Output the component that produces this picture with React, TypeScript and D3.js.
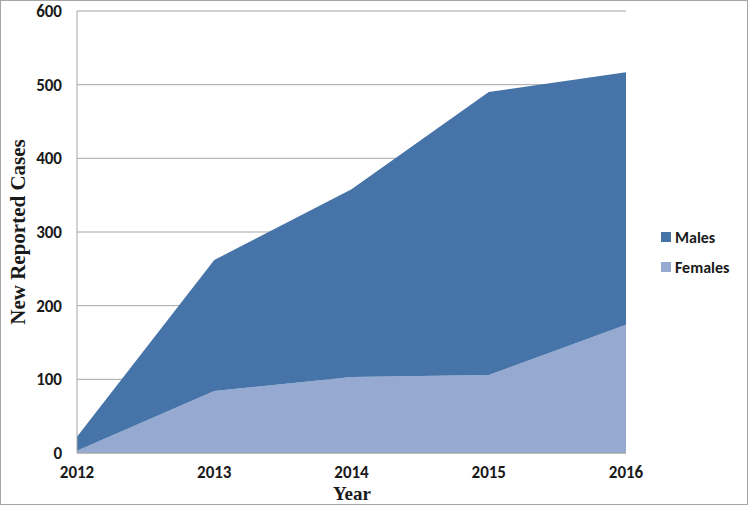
import React from "react";
import * as d3 from "d3";

const years = [2012, 2013, 2014, 2015, 2016];
const females = [3, 84, 103, 106, 174];
const males = [19, 178, 255, 384, 343];
const yTicks = [0, 100, 200, 300, 400, 500, 600];
const seriesNames = ["Females", "Males"];
const colors: Record<string, string> = { Males: "#4673A8", Females: "#95A9D1" };

export default function App() {
  const W = 748, H = 505;
  const left = 77, right = 626, top = 11, bottom = 453;
  const x = d3.scaleLinear().domain([2012, 2016]).range([left, right]);
  const y = d3.scaleLinear().domain([0, 600]).range([bottom, top]);
  const rows = years.map((yr, i) => ({ year: yr, Females: females[i], Males: males[i] }));
  const stack = d3.stack<any>().keys(seriesNames)(rows);
  const area = d3
    .area<any>()
    .x((d) => x(d.data.year))
    .y0((d) => y(d[0]))
    .y1((d) => y(d[1]));
  const sans = "Carlito, 'Liberation Sans', Arial, sans-serif";
  const serif = "'Liberation Serif', 'Times New Roman', serif";
  return (
    <svg width={W} height={H} style={{ position: "absolute", left: 0, top: 0, background: "#fff" }}>
      <rect x={0.5} y={0.5} width={W - 1} height={H - 1} fill="#fff" stroke="#a6a6a6" strokeWidth={1} />
      {yTicks.map((t) => (
        <g key={t}>
          <line x1={left} x2={right} y1={y(t)} y2={y(t)} stroke="#a6a6a6" strokeWidth={1} />
          <text x={62} y={y(t) + 6} textAnchor="end" fontFamily={sans} fontWeight="bold" fontSize={17} fill="#1a1a1a">
            {t}
          </text>
        </g>
      ))}
      {stack.map((s) => (
        <path key={s.key} d={area(s) || ""} fill={colors[s.key]} />
      ))}
      <line x1={left} x2={left} y1={top} y2={bottom} stroke="#a6a6a6" strokeWidth={1} />
      <line x1={left} x2={right} y1={bottom} y2={bottom} stroke="#a6a6a6" strokeWidth={1} />
      {years.map((yr) => (
        <text key={yr} x={x(yr)} y={478} textAnchor="middle" fontFamily={sans} fontWeight="bold" fontSize={17} fill="#1a1a1a">
          {yr}
        </text>
      ))}
      <text x={352} y={500} textAnchor="middle" fontFamily={serif} fontWeight="bold" fontSize={19} fill="#1a1a1a">
        Year
      </text>
      <text
        transform={`translate(25,232) rotate(-90)`}
        textAnchor="middle"
        fontFamily={serif}
        fontWeight="bold"
        fontSize={21}
        fill="#1a1a1a"
      >
        New Reported Cases
      </text>
      {["Males", "Females"].map((k, i) => (
        <g key={k}>
          <rect x={661} y={232 + i * 30} width={10} height={10} fill={colors[k]} />
          <text x={675} y={243 + i * 30} fontFamily={sans} fontWeight="bold" fontSize={16} fill="#1a1a1a">
            {k}
          </text>
        </g>
      ))}
    </svg>
  );
}
